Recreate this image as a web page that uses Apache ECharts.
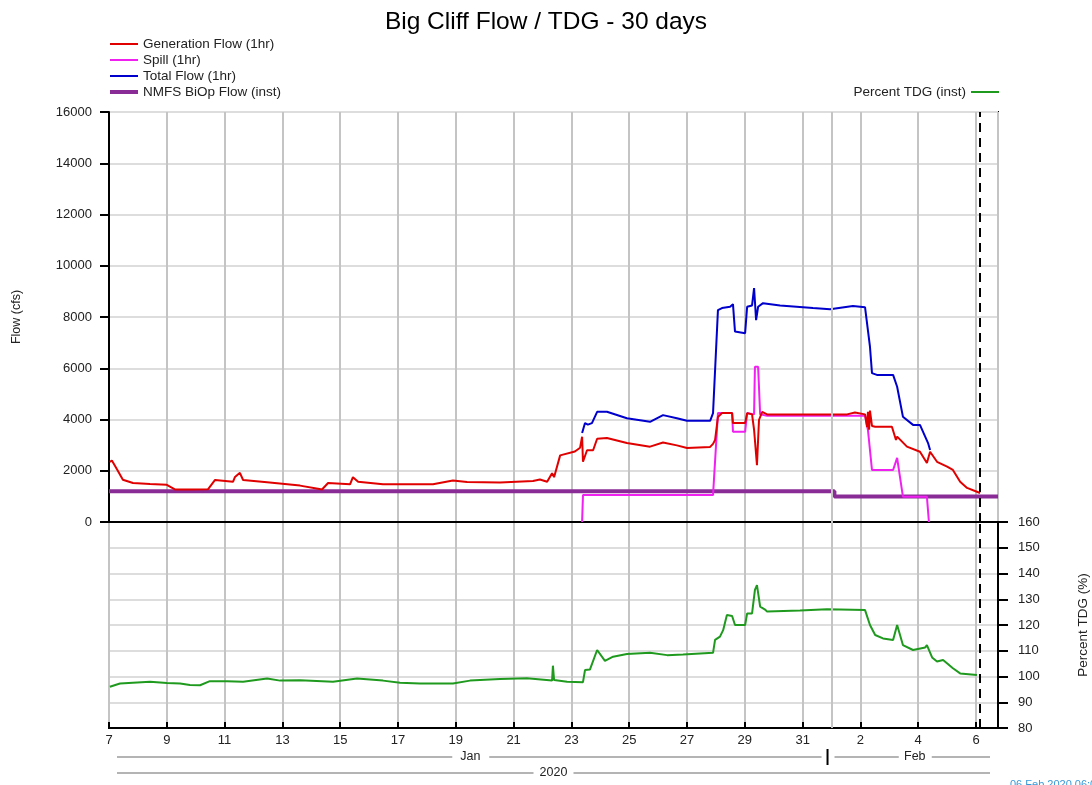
<!DOCTYPE html>
<html>
<head>
<meta charset="utf-8">
<title>Big Cliff Flow / TDG - 30 days</title>
<script src="https://cdn.jsdelivr.net/npm/echarts@6/dist/echarts.min.js"></script>
<style>
html, body { margin: 0; padding: 0; background: #fff; }
#main { width: 1092px; height: 785px; }
</style>
</head>
<body>
<div id="main"></div>
<script>
// x values are days since 7 Jan 2020 00:00
var xMax = 30.76;
var feb1Day = 25;
var nowDay = 30.14;
var startDate = 7, janDays = 31;
var stamp = '06 Feb 2020 06:00';

var genFlow = [
  [0.03, 2350], [0.1, 2400], [0.28, 2050], [0.48, 1650], [0.83, 1520], [1.42, 1480], [2.0, 1450],
  [2.28, 1270], [2.8, 1270], [3.43, 1280], [3.67, 1640], [4.29, 1570], [4.36, 1760], [4.53, 1920],
  [4.64, 1640], [5.47, 1550], [6.61, 1420], [7.23, 1300], [7.37, 1270], [7.58, 1520], [8.34, 1470],
  [8.44, 1750], [8.62, 1570], [9.48, 1470], [11.21, 1470], [11.9, 1620], [12.39, 1560], [13.53, 1540],
  [14.67, 1600], [14.91, 1660], [15.16, 1570], [15.33, 1900], [15.4, 1750], [15.61, 2600],
  [16.12, 2750], [16.3, 2900], [16.37, 3330], [16.4, 2350], [16.54, 2800], [16.75, 2800],
  [16.89, 3250], [17.23, 3280], [17.92, 3080], [18.72, 2940], [19.17, 3100], [19.65, 2990],
  [20.0, 2890], [20.8, 2930], [20.9, 3050], [20.97, 3200], [21.07, 4100], [21.21, 4250],
  [21.56, 4250], [21.59, 3860], [22.01, 3860], [22.08, 4250], [22.25, 4200], [22.32, 3600],
  [22.42, 2220], [22.49, 3980], [22.6, 4300], [22.77, 4200], [24.36, 4200], [25.54, 4200],
  [25.81, 4270], [26.16, 4200], [26.23, 3700], [26.26, 4300], [26.3, 3600], [26.33, 4350],
  [26.4, 3750], [26.51, 3720], [27.09, 3720], [27.23, 3200], [27.27, 3330], [27.61, 2940],
  [28.06, 2740], [28.3, 2300], [28.41, 2740], [28.65, 2350], [29.0, 2160], [29.2, 2030],
  [29.45, 1570], [29.69, 1330], [30.03, 1180], [30.14, 1130]
];

var totalFlow = [
  [16.37, 3470], [16.47, 3860], [16.57, 3800], [16.71, 3860], [16.89, 4300], [17.23, 4300],
  [17.92, 4050], [18.72, 3910], [19.17, 4170], [19.65, 4050], [20.0, 3950], [20.8, 3950],
  [20.9, 4250], [21.07, 8270], [21.21, 8350], [21.49, 8400], [21.59, 8500], [21.66, 7430],
  [22.01, 7370], [22.08, 8400], [22.25, 8450], [22.32, 9130], [22.39, 7880], [22.46, 8400],
  [22.63, 8540], [23.22, 8450], [24.36, 8350], [24.95, 8300], [25.74, 8430], [26.16, 8380],
  [26.33, 6840], [26.4, 5810], [26.57, 5740], [27.13, 5740], [27.27, 5280], [27.47, 4110],
  [27.82, 3790], [28.06, 3790], [28.34, 3080], [28.41, 2810]
];

var spill = [
  [16.37, 0], [16.4, 1050], [20.9, 1050], [21.07, 4250], [21.56, 4250], [21.59, 3520],
  [22.01, 3520], [22.08, 4250], [22.32, 4200], [22.35, 6060], [22.46, 6060], [22.53, 4200],
  [22.77, 4150], [26.16, 4150], [26.26, 3590], [26.4, 2030], [27.13, 2030], [27.27, 2500],
  [27.47, 990], [28.3, 990], [28.37, 0]
];

var biopFlow = [[0, 1200], [25.1, 1200], [25.1, 1000], [30.76, 1000]];

var tdgPct = [
  [0.03, 96.0], [0.38, 97.3], [1.42, 98.0], [2.0, 97.5], [2.46, 97.3], [2.8, 96.7], [3.15, 96.6],
  [3.49, 98.2], [4.08, 98.2], [4.64, 98.0], [5.47, 99.2], [5.92, 98.4], [6.61, 98.5], [7.75, 98.0],
  [8.58, 99.2], [9.48, 98.4], [10.07, 97.6], [10.76, 97.3], [11.9, 97.3], [12.49, 98.4],
  [13.53, 99.0], [14.46, 99.3], [15.33, 98.4], [15.36, 104.2], [15.4, 98.6], [15.85, 98.0],
  [16.4, 97.8], [16.47, 102.5], [16.64, 102.7], [16.89, 110.3], [17.16, 106.1], [17.44, 107.7],
  [17.92, 108.7], [18.72, 109.2], [19.31, 108.3], [19.86, 108.5], [20.9, 109.2], [20.97, 114.2],
  [21.14, 115.5], [21.25, 118], [21.38, 123.9], [21.56, 123.5], [21.66, 120], [22.01, 120],
  [22.08, 124.5], [22.25, 124.5], [22.35, 133.6], [22.42, 135.5], [22.53, 127.1], [22.7, 126],
  [22.77, 125.2], [23.91, 125.6], [24.84, 126.1], [26.16, 125.8], [26.33, 120], [26.51, 116.1],
  [26.78, 114.8], [27.13, 114.2], [27.27, 120], [27.47, 112.2], [27.82, 110.3], [28.24, 111.3],
  [28.3, 112.2], [28.48, 107.4], [28.65, 105.8], [28.86, 106.4], [29.2, 103.2], [29.45, 101.2],
  [30.03, 100.6]
];

var FONT = '"Liberation Sans", Arial, sans-serif';
var LINE2 = 'path://M0,0H28V2H0Z';
var LINE4 = 'path://M0,0H28V4H0Z';
var vGrid = {show: true, lineStyle: {color: '#c4c4c4', width: 2}};
var hGrid = {show: true, lineStyle: {color: '#dddddd', width: 2}};

function dayLabel(v) {
  if (Math.abs(v - Math.round(v)) > 0.01) return '';
  var d = Math.round(v) + startDate;
  return String(d > janDays ? d - janDays : d);
}

var main_show = echarts.init(document.getElementById('main'));
var option = {
  animation: false,
  backgroundColor: '#fff',
  textStyle: {fontFamily: FONT},
  title: {
    text: 'Big Cliff Flow / TDG - 30 days',
    left: 'center',
    top: 5,
    textStyle: {fontFamily: FONT, fontSize: 24.5, fontWeight: 'normal', color: '#000'}
  },
  legend: [{
    orient: 'vertical',
    left: 110,
    top: 37,
    padding: 0,
    itemWidth: 28,
    itemHeight: 12,
    itemGap: 2,
    symbolKeepAspect: true,
    itemStyle: {borderWidth: 0},
    textStyle: {fontFamily: FONT, fontSize: 13.5, color: '#222'},
    data: [
      {name: 'Generation Flow (1hr)', icon: LINE2},
      {name: 'Spill (1hr)', icon: LINE2},
      {name: 'Total Flow (1hr)', icon: LINE2},
      {name: 'NMFS BiOp Flow (inst)', icon: LINE4}
    ]
  }, {
    orient: 'vertical',
    right: 93,
    top: 85,
    padding: 0,
    align: 'right',
    itemWidth: 28,
    itemHeight: 12,
    symbolKeepAspect: true,
    itemStyle: {borderWidth: 0},
    textStyle: {fontFamily: FONT, fontSize: 13.5, color: '#222'},
    data: [{name: 'Percent TDG (inst)', icon: LINE2}]
  }],
  grid: [
    {left: 109, right: 94, top: 112, height: 410, show: true, borderColor: '#000', borderWidth: 2, containLabel: false, outerBoundsMode: 'none'},
    {left: 109, right: 94, top: 522, height: 206, show: true, borderColor: '#000', borderWidth: 2, containLabel: false, outerBoundsMode: 'none'}
  ],
  xAxis: [{
    gridIndex: 0, type: 'value', min: 0, max: xMax, interval: 2,
    axisLine: {show: true, onZero: false, lineStyle: {color: '#000', width: 2}},
    axisTick: {show: false},
    axisLabel: {show: false},
    splitLine: vGrid
  }, {
    gridIndex: 1, type: 'value', min: 0, max: xMax, interval: 2,
    axisLine: {show: true, onZero: false, lineStyle: {color: '#000', width: 2}},
    axisTick: {show: true, inside: true, length: 6, lineStyle: {color: '#000', width: 2}},
    axisLabel: {show: true, margin: 6, fontSize: 13, color: '#222', fontFamily: FONT, formatter: dayLabel},
    splitLine: vGrid
  }],
  yAxis: [{
    gridIndex: 0, type: 'value', min: 0, max: 16000, interval: 2000,
    name: 'Flow (cfs)', nameLocation: 'middle', nameGap: 86,
    nameTextStyle: {fontFamily: FONT, fontSize: 12.5, color: '#222'},
    axisLine: {show: true, onZero: false, lineStyle: {color: '#000', width: 2}},
    axisTick: {show: true, length: 9, lineStyle: {color: '#000', width: 2}},
    axisLabel: {margin: 17, fontSize: 13, color: '#222', fontFamily: FONT, formatter: function (v) { return String(v); }},
    splitLine: hGrid
  }, {
    gridIndex: 1, type: 'value', position: 'right', min: 80, max: 160, interval: 10,
    name: 'Percent TDG (%)', nameLocation: 'middle', nameGap: 78,
    nameTextStyle: {fontFamily: FONT, fontSize: 13.5, color: '#222'},
    axisLine: {show: true, onZero: false, lineStyle: {color: '#000', width: 2}},
    axisTick: {show: true, length: 10, lineStyle: {color: '#000', width: 2}},
    axisLabel: {margin: 20, fontSize: 13, color: '#222', fontFamily: FONT},
    splitLine: hGrid
  }],
  series: [{
    name: 'NMFS BiOp Flow (inst)', type: 'line', xAxisIndex: 0, yAxisIndex: 0,
    symbol: 'none', color: '#8a2c96', lineStyle: {width: 4, color: '#8a2c96'},
    data: biopFlow,
    markLine: {
      silent: true, symbol: 'none', label: {show: false},
      data: [
        {xAxis: feb1Day, lineStyle: {color: '#c4c4c4', width: 2, type: 'solid'}},
        {xAxis: nowDay, lineStyle: {color: '#000', width: 2, type: [9, 6]}}
      ]
    }
  }, {
    name: 'Total Flow (1hr)', type: 'line', xAxisIndex: 0, yAxisIndex: 0,
    symbol: 'none', color: '#0000cc', lineStyle: {width: 2, color: '#0000cc'},
    data: totalFlow
  }, {
    name: 'Spill (1hr)', type: 'line', xAxisIndex: 0, yAxisIndex: 0,
    symbol: 'none', color: '#f020f0', lineStyle: {width: 2, color: '#f020f0'},
    data: spill
  }, {
    name: 'Generation Flow (1hr)', type: 'line', xAxisIndex: 0, yAxisIndex: 0,
    symbol: 'none', color: '#e00000', lineStyle: {width: 2, color: '#e00000'},
    data: genFlow
  }, {
    name: 'Percent TDG (inst)', type: 'line', xAxisIndex: 1, yAxisIndex: 1,
    symbol: 'none', color: '#1f9a1f', lineStyle: {width: 2, color: '#1f9a1f'},
    data: tdgPct,
    markLine: {
      silent: true, symbol: 'none', label: {show: false},
      data: [
        {xAxis: feb1Day, lineStyle: {color: '#c4c4c4', width: 2, type: 'solid'}},
        {xAxis: nowDay, lineStyle: {color: '#000', width: 2, type: [9, 6]}}
      ]
    }
  }]
};
main_show.setOption(option);

// month / year strip under the time axis
function decorate() {
  var px = function (d) { return main_show.convertToPixel({xAxisIndex: 1}, d); };
  var x0 = px(0), x1 = px(xMax), xFeb = px(feb1Day);
  var janC = (x0 + xFeb) / 2, febC = (xFeb + x1) / 2, yrC = (x0 + x1) / 2;
  var gray = {stroke: '#b4b4b4', lineWidth: 2};
  var txt = function (s, x, y) {
    return {type: 'text', x: x, y: y, style: {text: s, fill: '#222', fontSize: 12.5, fontFamily: FONT, align: 'center', verticalAlign: 'middle'}};
  };
  var seg = function (a, b, y) {
    return {type: 'line', shape: {x1: a, y1: y, x2: b, y2: y}, style: gray};
  };
  var yM = 757, yY = 773;
  main_show.setOption({graphic: [
    seg(x0 + 8, janC - 18, yM), txt('Jan', janC, yM), seg(janC + 19, xFeb - 10, yM),
    {type: 'line', shape: {x1: xFeb - 4, y1: 749, x2: xFeb - 4, y2: 765}, style: {stroke: '#000', lineWidth: 2}},
    seg(xFeb + 3, febC - 16, yM), txt('Feb', febC, yM), seg(febC + 17, x1 - 8, yM),
    seg(x0 + 8, yrC - 20, yY), txt('2020', yrC, yY), seg(yrC + 20, x1 - 8, yY),
    {type: 'text', x: 1010, y: 779, style: {text: stamp, fill: '#3a9ad9', fontSize: 11, fontFamily: FONT}}
  ]});
}
decorate();
</script>
</body>
</html>
